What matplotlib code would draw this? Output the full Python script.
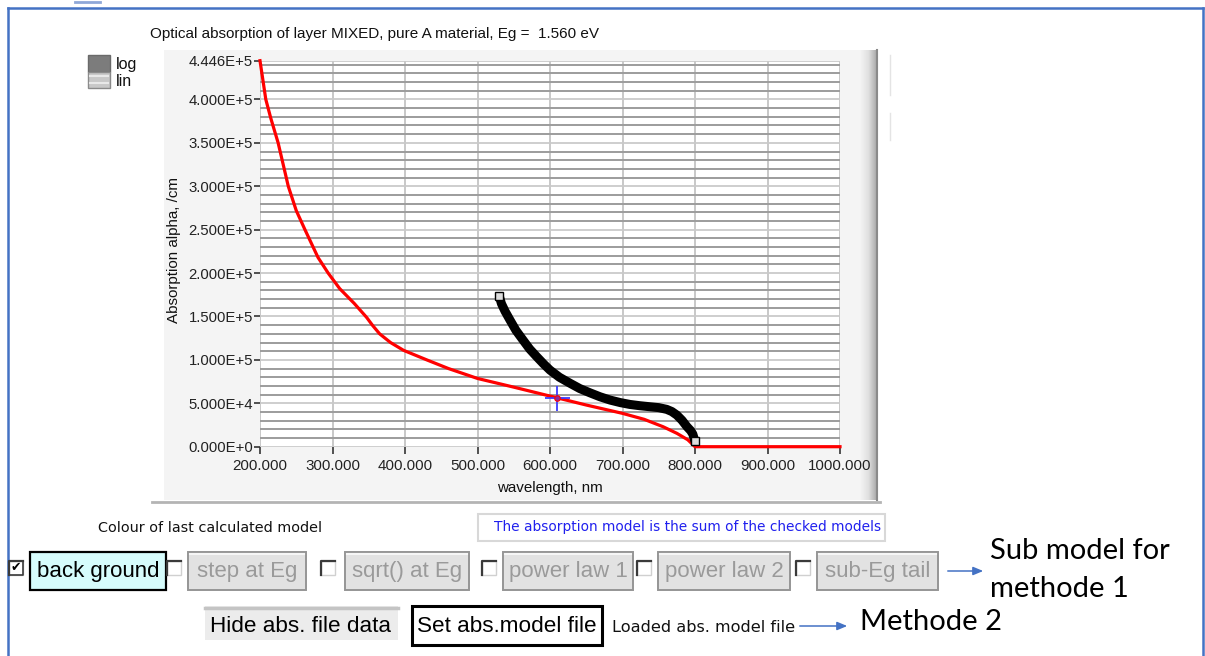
import numpy as np
import matplotlib
matplotlib.use("Agg")
import matplotlib.pyplot as plt
from matplotlib.patches import Rectangle

# ---------------- data ----------------
model_wl = [200, 208, 215, 225, 239, 250, 262, 280, 294, 310, 330, 347, 355, 365, 380, 398, 430, 460,
            500, 550, 600, 650, 700, 730, 756, 775, 790, 800, 1000]
model_alpha = [444600, 400000, 378000, 350000, 300000, 272000, 250000, 218000, 200000, 182000,
               165000, 149000, 140000, 130000, 120000, 111000, 100000, 90000, 78600, 68600,
               58300, 48000, 38400, 31500, 23000, 15400, 8000, 0, 0]

file_wl = [530, 533, 538, 545, 553, 563, 572, 582, 591, 600, 613, 628, 641, 655, 669, 683, 697,
           710, 724, 738, 750, 761, 768, 775, 782, 789, 794, 797, 800]
file_alpha = [173600, 164800, 156000, 145600, 134000, 122600, 112500, 103400, 95500, 88200,
              80000, 72900, 67000, 62100, 57500, 53700, 50800, 48700, 47200, 46000, 45000,
              43000, 40500, 36400, 30500, 23000, 18500, 14500, 6000]

cursor_wl = [610]
cursor_alpha = [56300]

x_ticks = [200, 300, 400, 500, 600, 700, 800, 900, 1000]
x_tick_labels = ["200.000", "300.000", "400.000", "500.000", "600.000", "700.000",
                 "800.000", "900.000", "1000.000"]
y_ticks = [0, 50000, 100000, 150000, 200000, 250000, 300000, 350000, 400000, 444600]
y_tick_labels = ["0.000E+0", "5.000E+4", "1.000E+5", "1.500E+5", "2.000E+5", "2.500E+5",
                 "3.000E+5", "3.500E+5", "4.000E+5", "4.446E+5"]
y_minor = list(range(10000, 440001, 10000))

title = "Optical absorption of layer MIXED, pure A material, Eg =  1.560 eV"
buttons = ["back ground", "step at Eg", "sqrt() at Eg", "power law 1", "power law 2", "sub-Eg tail"]

# ---------------- figure ----------------
W, H = 1205, 656
fig = plt.figure(figsize=(W / 100, H / 100), dpi=100)
fig.patch.set_facecolor("white")
FONT = "Liberation Sans"
SMALL = "DejaVu Sans"

bg = fig.add_axes([0, 0, 1, 1], zorder=0)
bg.set_xlim(0, W)
bg.set_ylim(H, 0)
bg.axis("off")

# outer blue frame
fc = "#4472c4"
bg.plot([8, 1203], [8, 8], color=fc, lw=1.8)
bg.plot([8, 8], [8, 656], color=fc, lw=1.8)
bg.plot([1203, 1203], [8, 656], color=fc, lw=1.8)
bg.plot([75, 100], [2, 2], color="#8fa8d8", lw=2)

# chart panel
bg.add_patch(Rectangle((164, 50), 700, 450, facecolor="#f4f4f4", edgecolor="none"))
grad = np.linspace(0, 1, 40)[None, :]
bg.imshow(np.repeat(grad, 10, axis=0), cmap=matplotlib.colors.LinearSegmentedColormap.from_list(
    "s", ["#f4f4f4", "#e0e0e0", "#a8a8a8"]), extent=(860, 877, 500, 50), aspect="auto", zorder=1)
bg.plot([877, 877], [50, 500], color="#8a8a8a", lw=1.5)
bg.plot([152, 880], [502, 502], color="#b4b4b4", lw=2)
bg.plot([890, 890], [55, 95], color="#e4e4e4", lw=1)
bg.plot([890, 890], [113, 140], color="#e4e4e4", lw=1)

# title
bg.text(150, 34, title, fontsize=11, family=FONT, ha="left", va="center", color="#111111")

# log / lin widget
bg.add_patch(Rectangle((88, 55), 22, 17, facecolor="#7c7c7c", edgecolor="#6a6a6a", lw=1))
bg.add_patch(Rectangle((88, 72), 22, 16, facecolor="#c8c8c8", edgecolor="#8a8a8a", lw=1))
bg.plot([90, 108], [76, 76], color="#e8e8e8", lw=1.5)
bg.plot([90, 108], [83, 83], color="#e8e8e8", lw=1.5)
bg.text(116, 65, "log", fontsize=11.5, family=FONT, ha="left", va="center", color="#111111")
bg.text(116, 81, "lin", fontsize=11.5, family=FONT, ha="left", va="center", color="#111111")

# ---------------- main axes ----------------
x0, x1, ytop, ybot = 260, 840, 60.7, 446.7
ax = fig.add_axes([x0 / W, (H - ybot) / H, (x1 - x0) / W, (ybot - ytop) / H], zorder=2)
ax.set_facecolor("white")
ax.set_xlim(200, 1000)
ax.set_ylim(0, 444600)
for s in ax.spines.values():
    s.set_visible(False)

ax.set_xticks(x_ticks)
ax.set_xticklabels(x_tick_labels, family=FONT, fontsize=10.9, color="#222222")
ax.set_yticks(y_ticks)
ax.set_yticklabels(y_tick_labels, family=FONT, fontsize=10.7, color="#222222")
ax.set_yticks(y_minor, minor=True)
ax.tick_params(axis="y", which="major", direction="out", length=4, width=1.2, color="#333333", pad=1)
ax.tick_params(axis="y", which="minor", length=0)
ax.tick_params(axis="x", which="major", direction="out", length=5, width=1.2, color="#333333", pad=3.5)

ax.grid(True, which="minor", axis="y", color="#9c9c9c", lw=1.4)
ax.grid(True, which="major", axis="y", color="#cacaca", lw=1.3)
ax.grid(True, which="major", axis="x", color="#c4c4c4", lw=1.3)
ax.set_axisbelow(True)

ax.set_xlabel("wavelength, nm", family=FONT, fontsize=10.9, va="center", color="#111111")
ax.xaxis.set_label_coords(0.5, -0.107)
ax.set_ylabel("Absorption alpha, /cm", family=FONT, fontsize=10.9, va="center", color="#111111")
ax.yaxis.set_label_coords(-0.148, 0.51)

ax.plot(model_wl, model_alpha, color="#ff0000", lw=2.3, zorder=3, clip_on=False)
ax.plot(file_wl, file_alpha, color="black", lw=6.5, solid_capstyle="butt", solid_joinstyle="round",
        zorder=4, marker="s", markersize=5.5, markerfacecolor="#dddddd", markeredgecolor="black",
        markevery=[0, len(file_wl) - 1])
ax.plot(cursor_wl, cursor_alpha, marker="+", markersize=18, mew=1.3, color="#3c3cff", ls="none", zorder=5)
ax.plot(cursor_wl, cursor_alpha, marker="o", markersize=4, mfc="#8a2a9a", mec="#ff0000", mew=0.8,
        ls="none", zorder=6)

# ---------------- controls ----------------
bg.text(98, 528, "Colour of last calculated model", fontsize=10.4, family=SMALL, ha="left",
        va="center", color="#111111")
bg.add_patch(Rectangle((478, 514), 407, 27, facecolor="white", edgecolor="#d8d8d8", lw=1.5))
bg.text(494, 527.5, "The absorption model is the sum of the checked models", fontsize=9.9,
        family=SMALL, ha="left", va="center", color="#2020ee")

cb_x = [9, 167, 321, 482, 637, 796]
btn_x = [(30, 166), (188, 306), (345, 469), (503, 633), (658, 790), (817, 938)]
for i, (cx, (bx0, bx1), label) in enumerate(zip(cb_x, btn_x, buttons)):
    bg.add_patch(Rectangle((cx, 561), 14, 14, facecolor="white", edgecolor="#d0d0d0", lw=1))
    bg.plot([cx, cx, cx + 14], [575, 561, 561], color="#3a3a3a", lw=1.6)
    if i == 0:
        bg.plot([cx + 14, cx + 14, cx], [561, 575, 575], color="#3a3a3a", lw=1.2)
        bg.text(cx + 7, 568, "\u2714", fontsize=9, family="DejaVu Sans", ha="center", va="center",
                color="black")
        bg.add_patch(Rectangle((bx0, 552), bx1 - bx0, 38, facecolor="#d6fcfc", edgecolor="black", lw=1.6))
        col = "black"
    else:
        bg.add_patch(Rectangle((bx0, 552), bx1 - bx0, 38, facecolor="#e2e2e2", edgecolor="#959595", lw=1.4))
        bg.plot([bx0 + 2, bx1 - 2], [553.5, 553.5], color="#f6f6f6", lw=1.5)
        col = "#9a9a9a"
    bg.text((bx0 + bx1) / 2, 572, label, fontsize=16, family=FONT, ha="center", va="center", color=col)


def arrow(xa, xb, y):
    bg.annotate("", xy=(xb, y), xytext=(xa, y),
                arrowprops=dict(arrowstyle="-|>,head_length=0.6,head_width=0.25", color=fc, lw=1.1))


arrow(945, 986, 571)
bg.text(990, 551, "Sub model for", fontsize=21, family="Lato", ha="left", va="center", color="black")
bg.text(990, 589, "methode 1", fontsize=21, family="Lato", ha="left", va="center", color="black")

bg.add_patch(Rectangle((205, 606), 193, 34, facecolor="#ececec", edgecolor="none"))
bg.plot([205, 398], [607.5, 607.5], color="#c4c4c4", lw=2.5)
bg.text(301, 626, "Hide abs. file data", fontsize=16.2, family=FONT, ha="center", va="center", color="black")
bg.add_patch(Rectangle((412, 606), 190, 39, facecolor="white", edgecolor="black", lw=2.2))
bg.text(507, 626, "Set abs.model file", fontsize=16.2, family=FONT, ha="center", va="center", color="black")
bg.text(612, 628, "Loaded abs. model file", fontsize=11.6, family=SMALL, ha="left", va="center", color="#111111")
arrow(797, 850, 626)
bg.text(860, 622, "Methode 2", fontsize=21, family="Lato", ha="left", va="center", color="black")

fig.savefig("out.png", dpi=100, facecolor="white")
